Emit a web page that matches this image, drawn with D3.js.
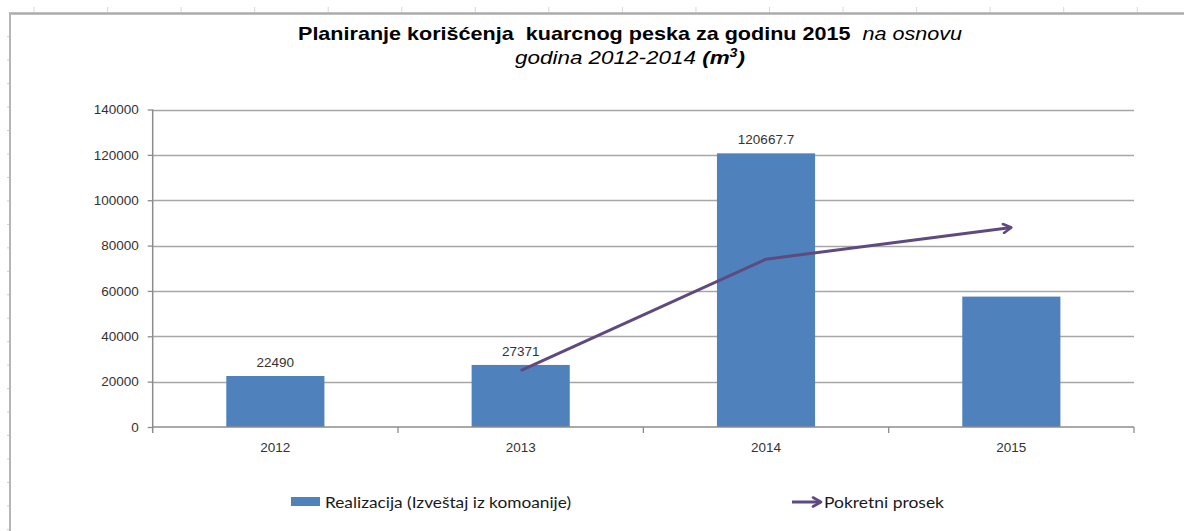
<!DOCTYPE html>
<html><head><meta charset="utf-8">
<script src="https://cdn.jsdelivr.net/npm/d3@7"></script>
<style>
html,body{margin:0;padding:0;background:#fff;}
svg{display:block;}
text{white-space:pre;}
</style></head>
<body>
<svg id="c" width="1184" height="531"></svg>
<script>
const categories = ["2012", "2013", "2014", "2015"];
const realizacija = [22490, 27371, 120667.7, 57500];
const barLabels = ["22490", "27371", "120667.7", ""];
const pokretniProsek = [null, 24900, 74000, 88000];
const yTicks = [0, 20000, 40000, 60000, 80000, 100000, 120000, 140000];
const legendLabels = ["Realizacija (Izveštaj iz komoanije)", "Pokretni prosek"];

const svg = d3.select("#c");
const barColor = "#4F81BD", lineColor = "#5F4A7F", gridColor = "#A6A6A6", axisColor = "#8C8C8C", textColor = "#333333";
const axisFont = "'Liberation Sans', Arial, sans-serif";
const legFont = "Lato, 'Open Sans', sans-serif";

// spreadsheet frame
const frame = svg.append("g");
frame.append("line").attr("x1", 9).attr("x2", 1184).attr("y1", 13.5).attr("y2", 13.5).attr("stroke", "#ABABAB").attr("stroke-width", 2.5);
frame.append("line").attr("x1", 10).attr("x2", 10).attr("y1", 13).attr("y2", 531).attr("stroke", "#B5B5B5").attr("stroke-width", 2);
d3.range(34, 1184, 73.55).forEach(x => frame.append("line").attr("x1", x).attr("x2", x).attr("y1", 7).attr("y2", 12).attr("stroke", "#D8D8D8").attr("stroke-width", 1));
d3.range(36.7, 531, 23.46).forEach(y => frame.append("line").attr("x1", 7).attr("x2", 9).attr("y1", y).attr("y2", y).attr("stroke", "#D0D0D0").attr("stroke-width", 1));

// scales
const x0 = 152.7, x1 = 1134, yTop = 109.5, yZero = 427;
const xBand = d3.scaleBand().domain(categories).range([x0, x1]).padding(0);
const bw = xBand.bandwidth();
const y = d3.scaleLinear().domain([0, 140000]).range([yZero, yTop]);
const cx = c => xBand(c) + bw / 2;

// gridlines
svg.append("g").selectAll("line").data(yTicks.filter(t => t > 0)).join("line")
  .attr("x1", x0).attr("x2", x1).attr("y1", d => Math.round(y(d)) + 0.5).attr("y2", d => Math.round(y(d)) + 0.5)
  .attr("stroke", gridColor).attr("stroke-width", 1.3);

// bars
svg.append("g").selectAll("rect").data(categories).join("rect")
  .attr("x", (c) => xBand(c) + bw * 0.3).attr("width", bw * 0.4)
  .attr("y", (c, i) => y(realizacija[i])).attr("height", (c, i) => yZero - y(realizacija[i]))
  .attr("fill", barColor);

// bar labels
svg.append("g").selectAll("text").data(categories).join("text")
  .attr("x", c => cx(c)).attr("y", (c, i) => y(realizacija[i]) - 9)
  .attr("text-anchor", "middle").attr("font-family", axisFont).attr("font-size", 13.5).attr("fill", textColor)
  .text((c, i) => barLabels[i]);

// y axis
const yAxis = d3.axisLeft(y).tickValues(yTicks).tickSize(5).tickPadding(9).tickFormat(d3.format("d"));
const gy = svg.append("g").attr("transform", `translate(${x0},0)`).call(yAxis);
gy.select(".domain").attr("d", `M0,${yTop}V${yZero + 6}`).attr("stroke", axisColor).attr("stroke-width", 1.5);
gy.selectAll(".tick line").attr("stroke", axisColor).attr("stroke-width", 1.3);
gy.selectAll(".tick text").attr("font-family", axisFont).attr("font-size", 13.5).attr("fill", textColor);

// x axis
const xAxis = d3.axisBottom(xBand).tickSize(0).tickPadding(15);
const gx = svg.append("g").attr("transform", `translate(0,${yZero})`).call(xAxis);
gx.select(".domain").attr("d", `M${x0},0H${x1}`).attr("stroke", axisColor).attr("stroke-width", 1.5);
gx.selectAll(".tick text").attr("font-family", axisFont).attr("font-size", 13.5).attr("fill", textColor);
gx.append("g").selectAll("line").data(categories.slice(1).map(c => xBand(c)).concat([x1])).join("line")
  .attr("x1", d => d).attr("x2", d => d).attr("y1", 0).attr("y2", 6).attr("stroke", axisColor).attr("stroke-width", 1.3);

// moving average line with arrow
const defs = svg.append("defs");
defs.append("marker").attr("id", "arr").attr("viewBox", "0 0 12 12").attr("refX", 10).attr("refY", 6)
  .attr("markerWidth", 12).attr("markerHeight", 12).attr("markerUnits", "userSpaceOnUse").attr("orient", "auto")
  .append("path").attr("d", "M2,1.5 L10,6 L2,10.5").attr("fill", "none").attr("stroke", lineColor).attr("stroke-width", 2.6).attr("stroke-linecap", "round").attr("stroke-linejoin", "round");
const pts = categories.map((c, i) => [cx(c), pokretniProsek[i]]).filter(p => p[1] != null);
const line = d3.line().x(p => p[0]).y(p => y(p[1]));
svg.append("path").attr("d", line(pts)).attr("fill", "none").attr("stroke", lineColor).attr("stroke-width", 3)
  .attr("stroke-linejoin", "round").attr("marker-end", "url(#arr)");

// title
const t1 = svg.append("text").attr("x", 298).attr("y", 40).attr("font-family", "'Liberation Sans', Arial, sans-serif").attr("font-size", 19).attr("fill", "#000")
  .attr("textLength", 664).attr("lengthAdjust", "spacingAndGlyphs");
t1.append("tspan").attr("font-weight", "bold").text("Planiranje korišćenja  kuarcnog peska za godinu 2015 ");
t1.append("tspan").attr("font-style", "italic").text(" na osnovu");
const t2 = svg.append("text").attr("x", 515).attr("y", 64).attr("font-family", "'Liberation Sans', Arial, sans-serif").attr("font-size", 19).attr("fill", "#000")
  .attr("textLength", 230).attr("lengthAdjust", "spacingAndGlyphs");
t2.append("tspan").attr("font-style", "italic").text("godina 2012-2014 ");
t2.append("tspan").attr("font-style", "italic").attr("font-weight", "bold").text("(m");
t2.append("tspan").attr("font-style", "italic").attr("font-weight", "bold").attr("font-size", 12).attr("dy", -7).text("3");
t2.append("tspan").attr("font-style", "italic").attr("font-weight", "bold").attr("dy", 7).text(")");

// legend
const lg = svg.append("g");
lg.append("rect").attr("x", 291).attr("y", 497).attr("width", 29).attr("height", 9).attr("fill", barColor);
lg.append("text").attr("x", 325).attr("y", 507.5).attr("font-family", legFont).attr("font-size", 16).attr("fill", "#1a1a1a")
  .attr("textLength", 246).attr("lengthAdjust", "spacingAndGlyphs").text(legendLabels[0]);
lg.append("line").attr("x1", 792).attr("x2", 821).attr("y1", 502).attr("y2", 502).attr("stroke", lineColor).attr("stroke-width", 3).attr("marker-end", "url(#arr)");
lg.append("text").attr("x", 824).attr("y", 507.5).attr("font-family", legFont).attr("font-size", 16).attr("fill", "#1a1a1a")
  .attr("textLength", 120).attr("lengthAdjust", "spacingAndGlyphs").text(legendLabels[1]);
</script>
</body></html>
